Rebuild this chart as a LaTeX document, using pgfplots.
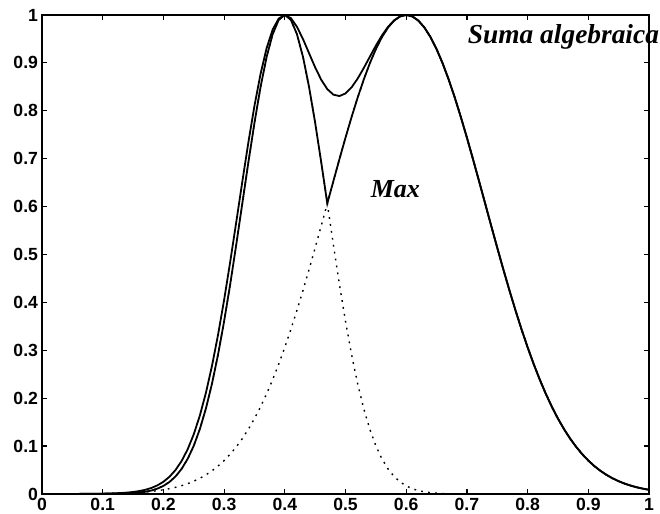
\documentclass[border=0pt]{standalone}
\usepackage{fontspec}
\setmainfont{Liberation Sans}
\newfontfamily\timesfont{Liberation Serif}
\usepackage{pgfplots}
\pgfplotsset{compat=1.18}
\usepackage{pgfplotstable}

\pgfplotstableread{
x a b m s
0.00 0 0.00002 0.00002 0.00002
0.01 0 0.00003 0.00003 0.00003
0.02 0 0.00005 0.00005 0.00005
0.03 0 0.00007 0.00007 0.00007
0.04 0 0.00009 0.00009 0.00010
0.05 0 0.00013 0.00013 0.00014
0.06 0.00001 0.00018 0.00018 0.00019
0.07 0.00002 0.00025 0.00025 0.00026
0.08 0.00003 0.00034 0.00034 0.00037
0.09 0.00006 0.00046 0.00046 0.00051
0.10 0.00010 0.00061 0.00061 0.00071
0.11 0.00019 0.00082 0.00082 0.00101
0.12 0.00034 0.00110 0.00110 0.00144
0.13 0.00059 0.00145 0.00145 0.00204
0.14 0.00101 0.00191 0.00191 0.00292
0.15 0.00170 0.00250 0.00250 0.00420
0.16 0.00280 0.00325 0.00325 0.00605
0.17 0.00453 0.00421 0.00453 0.00872
0.18 0.00716 0.00541 0.00716 0.01253
0.19 0.01111 0.00692 0.01111 0.01795
0.20 0.01688 0.00879 0.01688 0.02553
0.21 0.02513 0.01111 0.02513 0.03596
0.22 0.03666 0.01395 0.03666 0.05010
0.23 0.05239 0.01742 0.05239 0.06890
0.24 0.07337 0.02162 0.07337 0.09340
0.25 0.10067 0.02667 0.10067 0.12465
0.26 0.13534 0.03271 0.13534 0.16362
0.27 0.17826 0.03988 0.17826 0.21103
0.28 0.23007 0.04834 0.23007 0.26729
0.29 0.29092 0.05824 0.29092 0.33222
0.30 0.36045 0.06976 0.36045 0.40506
0.31 0.43757 0.08306 0.43757 0.48429
0.32 0.52045 0.09832 0.52045 0.56760
0.33 0.60653 0.11569 0.60653 0.65205
0.34 0.69257 0.13534 0.69257 0.73418
0.35 0.77484 0.15738 0.77484 0.81028
0.36 0.84937 0.18193 0.84937 0.87677
0.37 0.91225 0.20907 0.91225 0.93060
0.38 0.96000 0.23884 0.96000 0.96955
0.39 0.98985 0.27125 0.98985 0.99260
0.40 1.00000 0.30623 1.00000 1.00000
0.41 0.98985 0.34368 0.98985 0.99334
0.42 0.96000 0.38344 0.96000 0.97534
0.43 0.91225 0.42527 0.91225 0.94957
0.44 0.84937 0.46889 0.84937 0.92000
0.45 0.77484 0.51392 0.77484 0.89056
0.46 0.69257 0.55997 0.69257 0.86472
0.47 0.60653 0.60653 0.60653 0.84518
0.48 0.52045 0.65309 0.65309 0.83364
0.49 0.43757 0.69908 0.69908 0.83076
0.50 0.36045 0.74389 0.74389 0.83621
0.51 0.29092 0.78691 0.78691 0.84890
0.52 0.23007 0.82750 0.82750 0.86719
0.53 0.17826 0.86505 0.86505 0.88911
0.54 0.13534 0.89897 0.89897 0.91264
0.55 0.10067 0.92871 0.92871 0.93588
0.56 0.07337 0.95377 0.95377 0.95716
0.57 0.05239 0.97372 0.97372 0.97510
0.58 0.03666 0.98824 0.98824 0.98867
0.59 0.02513 0.99705 0.99705 0.99712
0.60 0.01688 1.00000 1.00000 1.00000
0.61 0.01111 0.99705 0.99705 0.99708
0.62 0.00716 0.98824 0.98824 0.98832
0.63 0.00453 0.97372 0.97372 0.97384
0.64 0.00280 0.95377 0.95377 0.95390
0.65 0.00170 0.92871 0.92871 0.92883
0.66 0.00101 0.89897 0.89897 0.89907
0.67 0.00059 0.86505 0.86505 0.86513
0.68 0.00034 0.82750 0.82750 0.82756
0.69 0.00019 0.78691 0.78691 0.78695
0.70 0.00010 0.74389 0.74389 0.74392
0.71 0.00005 0.69908 0.69908 0.69910
0.72 0.00003 0.65309 0.65309 0.65310
0.73 0.00001 0.60653 0.60653 0.60654
0.74 0 0.55997 0.55997 0.55997
0.75 0 0.51392 0.51392 0.51392
0.76 0 0.46889 0.46889 0.46889
0.77 0 0.42527 0.42527 0.42527
0.78 0 0.38344 0.38344 0.38344
0.79 0 0.34368 0.34368 0.34368
0.80 0 0.30623 0.30623 0.30623
0.81 0 0.27125 0.27125 0.27125
0.82 0 0.23884 0.23884 0.23884
0.83 0 0.20907 0.20907 0.20907
0.84 0 0.18193 0.18193 0.18193
0.85 0 0.15738 0.15738 0.15738
0.86 0 0.13534 0.13534 0.13534
0.87 0 0.11569 0.11569 0.11569
0.88 0 0.09832 0.09832 0.09832
0.89 0 0.08306 0.08306 0.08306
0.90 0 0.06976 0.06976 0.06976
0.91 0 0.05824 0.05824 0.05824
0.92 0 0.04834 0.04834 0.04834
0.93 0 0.03988 0.03988 0.03988
0.94 0 0.03271 0.03271 0.03271
0.95 0 0.02667 0.02667 0.02667
0.96 0 0.02162 0.02162 0.02162
0.97 0 0.01742 0.01742 0.01742
0.98 0 0.01395 0.01395 0.01395
0.99 0 0.01111 0.01111 0.01111
1.00 0 0.00879 0.00879 0.00879
}\data

\begin{document}
\begin{tikzpicture}
\begin{axis}[
  scale only axis, width=303.5pt, height=239.5pt,
  xmin=0, xmax=1, ymin=0, ymax=1,
  xtick={0,0.1,0.2,0.3,0.4,0.5,0.6,0.7,0.8,0.9,1},
  ytick={0,0.1,0.2,0.3,0.4,0.5,0.6,0.7,0.8,0.9,1},
  tick align=inside, major tick length=2.5pt,
  axis line style={line width=0.8pt},
  every tick/.style={line width=0.6pt, black},
  tick label style={font=\bfseries\fontsize{8.8}{10}\selectfont},
  /pgf/number format/assume math mode=true,
  xticklabel style={yshift=1.5pt},
  yticklabel style={xshift=1.5pt},
  clip mode=individual,
]
\addplot[black, line width=0.7pt, dash pattern=on 0.9pt off 2.6pt] table[x=x, y=a] {\data};
\addplot[black, line width=0.7pt, dash pattern=on 0.9pt off 2.6pt] table[x=x, y=b] {\data};
\addplot[black, line width=0.9pt] table[x=x, y=m] {\data};
\addplot[black, line width=0.9pt] table[x=x, y=s] {\data};
\node[anchor=base west, inner sep=0pt, font=\timesfont\bfseries\itshape\fontsize{13.7}{16}\selectfont] at (axis cs:0.701,0.94) {Suma algebraica};
\node[anchor=base west, inner sep=0pt, font=\timesfont\bfseries\itshape\fontsize{13}{15}\selectfont] at (axis cs:0.541,0.62) {Max};
\coordinate (bbsw) at (axis description cs:-0.0692,-0.04175);
\coordinate (bbne) at (axis description cs:1.0181,1.0313);
\end{axis}
\pgfresetboundingbox
\path[use as bounding box] (bbsw) rectangle (bbne);
\end{tikzpicture}
\end{document}
